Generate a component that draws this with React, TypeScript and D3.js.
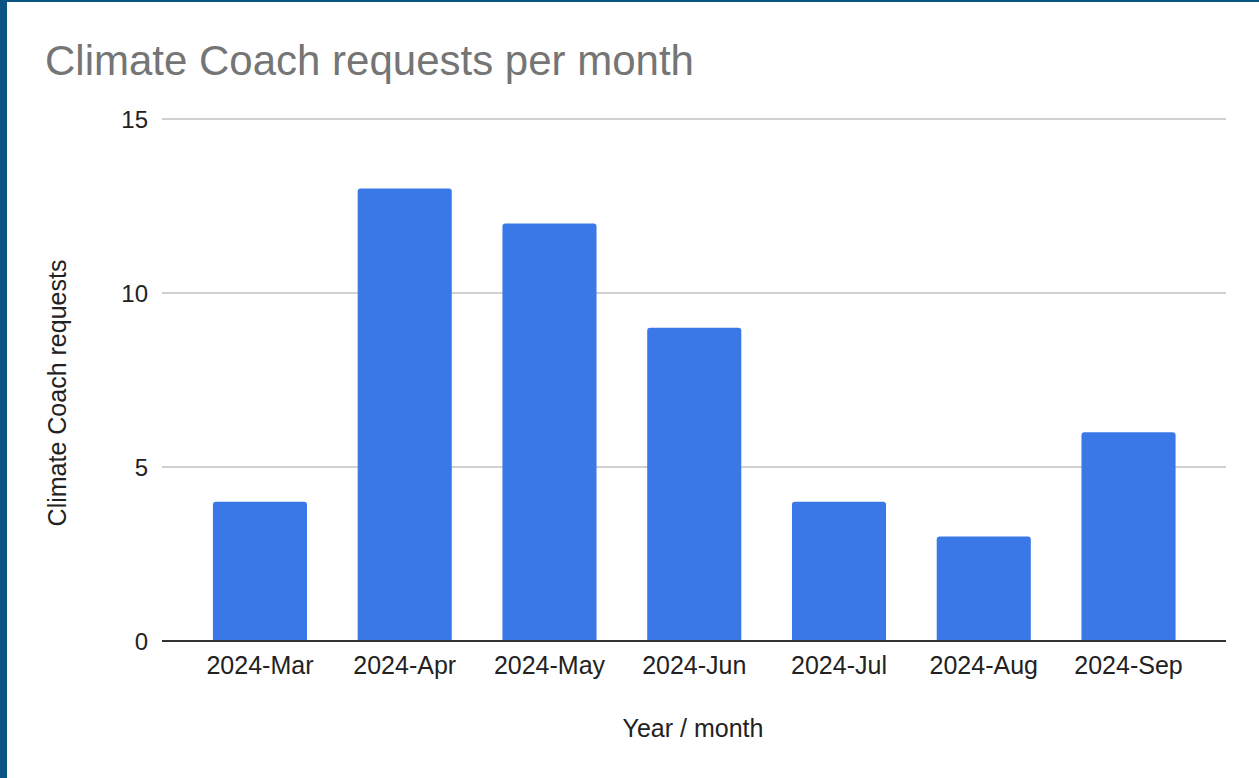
import React from "react";
import * as d3 from "d3";

const categories = ["2024-Mar", "2024-Apr", "2024-May", "2024-Jun", "2024-Jul", "2024-Aug", "2024-Sep"];
const requests = [4, 13, 12, 9, 4, 3, 6];
const yTicks = [0, 5, 10, 15];

const W = 1259;
const H = 778;
const FONT = "'Liberation Sans', Arial, sans-serif";

export default function App() {
  const x = d3.scaleBand<string>().domain(categories).range([187.6, 1200.9]).paddingInner(0.35).paddingOuter(0.175);
  const y = d3.scaleLinear().domain([0, 15]).range([641, 119]);
  const plotL = 162;
  const plotR = 1226;
  const r = 3;
  const barPath = (cat: string, v: number) => {
    const x0 = x(cat)!;
    const w = x.bandwidth();
    const y0 = y(v);
    const yb = y(0);
    return `M${x0},${yb}V${y0 + r}Q${x0},${y0} ${x0 + r},${y0}H${x0 + w - r}Q${x0 + w},${y0} ${x0 + w},${y0 + r}V${yb}Z`;
  };
  return (
    <svg width={W} height={H} style={{ position: "absolute", left: 0, top: 0, background: "#fff" }} fontFamily={FONT}>
      <rect x={0} y={0} width={W} height={H} fill="#fff" />
      <rect x={0} y={0} width={7} height={H} fill="#0b5583" />
      <rect x={0} y={0} width={W} height={2} fill="#0b5583" />
      <text x={45} y={75} fontSize={42} fill="#757575">Climate Coach requests per month</text>
      {yTicks.filter((t) => t !== 0).map((t) => (
        <line key={t} x1={plotL} x2={plotR} y1={y(t)} y2={y(t)} stroke="#d0d0d0" strokeWidth={2} />
      ))}
      {yTicks.map((t) => (
        <text key={"l" + t} x={148} y={y(t) + 8.5} fontSize={24} textAnchor="end" fill="#222">{t}</text>
      ))}
      {categories.map((c, i) => (
        <path key={c} d={barPath(c, requests[i])} fill="#3a78e8" />
      ))}
      <line x1={plotL} x2={plotR} y1={y(0)} y2={y(0)} stroke="#333" strokeWidth={2} />
      {categories.map((c) => (
        <text key={"x" + c} x={x(c)! + x.bandwidth() / 2} y={674} fontSize={25} textAnchor="middle" fill="#222">{c}</text>
      ))}
      <text x={693} y={737} fontSize={25} textAnchor="middle" fill="#222">Year / month</text>
      <text transform={`translate(66,393) rotate(-90)`} fontSize={25} textAnchor="middle" fill="#222">Climate Coach requests</text>
    </svg>
  );
}
